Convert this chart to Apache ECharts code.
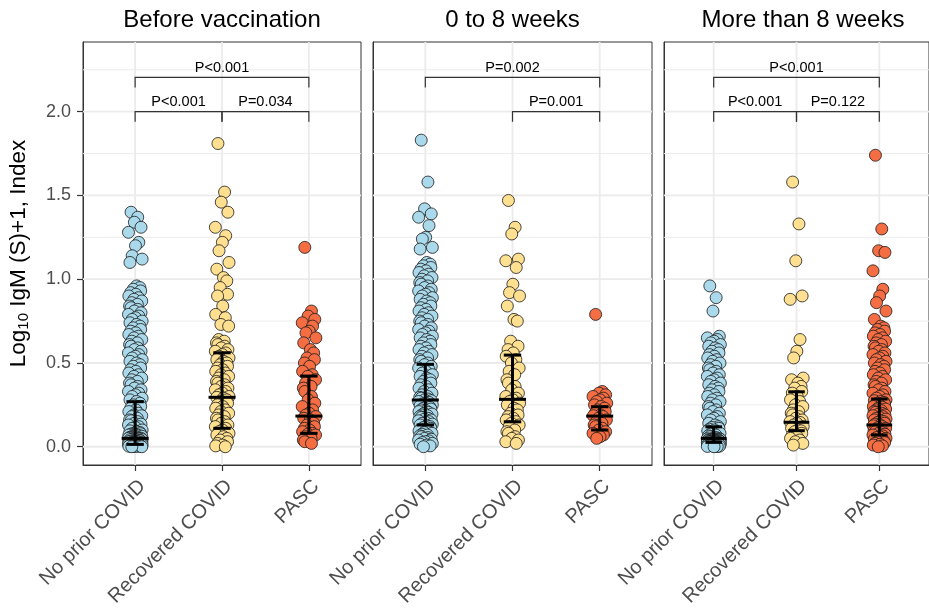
<!DOCTYPE html>
<html>
<head>
<meta charset="utf-8">
<script src="https://cdn.jsdelivr.net/npm/echarts@6/dist/echarts.min.js"></script>
<style>
  html, body { margin: 0; padding: 0; background: #fff; }
  #main { width: 929px; height: 612px; }
</style>
</head>
<body>
<div id="main"></div>
<script>
  // ---- data ----
  var categories = ['No prior COVID', 'Recovered COVID', 'PASC'];
  var panelTitles = ['Before vaccination', '0 to 8 weeks', 'More than 8 weeks'];
  var yTicks = [0, 0.5, 1, 1.5, 2];
  var yMinor = [0.25, 0.75, 1.25, 1.75, 2.25];

  // Before vaccination
  var before_noPrior = [1.40, 1.37, 1.34, 1.31, 1.28, 1.22, 1.20, 1.14, 1.12, 1.10,
    0.96, 0.95, 0.94, 0.93, 0.92, 0.91, 0.90, 0.89, 0.88, 0.87, 0.86, 0.85, 0.84, 0.83, 0.82,
    0.81, 0.80, 0.79, 0.78, 0.77, 0.76, 0.75, 0.74, 0.73, 0.72, 0.71, 0.70, 0.69, 0.68, 0.67,
    0.66, 0.65, 0.64, 0.63, 0.62, 0.61, 0.60, 0.59, 0.58, 0.57, 0.56, 0.55, 0.54, 0.53, 0.52,
    0.51, 0.50, 0.49, 0.48, 0.47, 0.46, 0.45, 0.44, 0.43, 0.42, 0.41, 0.40, 0.39, 0.38, 0.37,
    0.36, 0.35, 0.34, 0.33, 0.32, 0.31, 0.30, 0.29, 0.28, 0.27, 0.26, 0.25,
    0.24, 0.23, 0.22, 0.21, 0.20, 0.19, 0.185, 0.18, 0.17, 0.16, 0.155, 0.15, 0.14, 0.135,
    0.13, 0.12, 0.115, 0.11, 0.10, 0.095, 0.09, 0.085, 0.08, 0.078, 0.075, 0.072, 0.07,
    0.068, 0.065, 0.063, 0.06, 0.058, 0.056, 0.055, 0.053, 0.052, 0.051, 0.05, 0.048, 0.046,
    0.045, 0.043, 0.042, 0.04, 0.038, 0.036, 0.035, 0.033, 0.032, 0.03, 0.028, 0.027, 0.025,
    0.024, 0.022, 0.02, 0.019, 0.018, 0.017, 0.016, 0.015, 0.014, 0.013, 0.012, 0.011, 0.01,
    0.009, 0.008, 0.007, 0.006, 0.005, 0.004, 0.003, 0.002, 0.001, 0.0, 0.0];
  var before_recovered = [1.81, 1.52, 1.46, 1.40, 1.31, 1.26, 1.22, 1.17, 1.10, 1.06, 1.01,
    0.99, 0.95, 0.91, 0.90, 0.84, 0.79, 0.77, 0.73, 0.72, 0.64, 0.63, 0.62, 0.61, 0.60, 0.59,
    0.58, 0.57, 0.56, 0.55, 0.54, 0.53, 0.52, 0.51, 0.50, 0.49, 0.48, 0.47, 0.46, 0.45, 0.44,
    0.43, 0.42, 0.41, 0.40, 0.39, 0.38, 0.37, 0.36, 0.35, 0.34, 0.33, 0.32, 0.31, 0.30, 0.295,
    0.29, 0.28, 0.27, 0.26, 0.25, 0.24, 0.23, 0.22, 0.21, 0.20, 0.19, 0.18, 0.17, 0.16, 0.15,
    0.14, 0.13, 0.12, 0.11, 0.10, 0.09, 0.08, 0.07, 0.06, 0.05, 0.04, 0.03, 0.02, 0.01, 0.005,
    0.0];
  var before_pasc = [1.19, 0.81, 0.78, 0.76, 0.74, 0.72, 0.69, 0.68, 0.65, 0.62, 0.58, 0.56,
    0.53, 0.52, 0.50, 0.48, 0.45, 0.43, 0.42, 0.40, 0.38, 0.36, 0.35, 0.33, 0.30, 0.28, 0.26,
    0.24, 0.22, 0.20, 0.19, 0.18, 0.17, 0.16, 0.14, 0.13, 0.12, 0.11, 0.10, 0.09, 0.08, 0.075,
    0.07, 0.06, 0.05, 0.04, 0.03, 0.02];

  // 0 to 8 weeks
  var early_noPrior = [1.83, 1.58, 1.42, 1.39, 1.37, 1.32, 1.25, 1.24, 1.19, 1.18,
    1.10, 1.09, 1.08, 1.07, 1.06, 1.05, 1.04, 1.03, 1.02, 1.01, 1.00, 0.99, 0.98, 0.97, 0.96,
    0.95, 0.94, 0.93, 0.92, 0.91, 0.90, 0.89, 0.88, 0.87, 0.86, 0.85, 0.84, 0.83, 0.82, 0.81,
    0.80, 0.79, 0.78, 0.77, 0.76, 0.75, 0.74, 0.73, 0.72, 0.71, 0.70, 0.69, 0.68, 0.67, 0.66,
    0.65, 0.64, 0.63, 0.62, 0.61, 0.60, 0.59, 0.58, 0.57, 0.56, 0.55, 0.54, 0.53, 0.52, 0.51,
    0.50, 0.49, 0.48, 0.47, 0.46, 0.45, 0.44, 0.43, 0.42, 0.41, 0.40, 0.39, 0.38, 0.37, 0.36,
    0.35, 0.34, 0.33, 0.32, 0.31, 0.30, 0.295, 0.29, 0.285, 0.28, 0.275, 0.27, 0.265, 0.26,
    0.255, 0.25, 0.245, 0.24, 0.235, 0.23, 0.225, 0.22, 0.215, 0.21, 0.205, 0.20, 0.195, 0.19,
    0.185, 0.18, 0.175, 0.17, 0.165, 0.16, 0.155, 0.15, 0.145, 0.14, 0.135, 0.13, 0.125, 0.12,
    0.115, 0.11, 0.105, 0.10, 0.095, 0.09, 0.085, 0.08, 0.075, 0.07, 0.065, 0.06, 0.055, 0.05,
    0.045, 0.04, 0.035, 0.03, 0.025, 0.02, 0.015, 0.01, 0.005, 0.0];
  var early_recovered = [1.47, 1.31, 1.27, 1.12, 1.11, 1.07, 0.97, 0.92, 0.90, 0.84, 0.76,
    0.75, 0.63, 0.60, 0.58, 0.56, 0.54, 0.52, 0.50, 0.47, 0.45, 0.43, 0.40, 0.38, 0.36, 0.34,
    0.32, 0.30, 0.29, 0.28, 0.27, 0.26, 0.25, 0.23, 0.22, 0.20, 0.19, 0.18, 0.17, 0.16, 0.15,
    0.14, 0.13, 0.12, 0.10, 0.09, 0.08, 0.06, 0.05, 0.04, 0.03, 0.02];
  var early_pasc = [0.79, 0.33, 0.32, 0.31, 0.30, 0.29, 0.28, 0.27, 0.26, 0.25, 0.24, 0.23,
    0.22, 0.21, 0.20, 0.19, 0.185, 0.18, 0.17, 0.16, 0.15, 0.14, 0.13, 0.12, 0.11, 0.10, 0.09,
    0.08, 0.07, 0.06, 0.05];

  // More than 8 weeks
  var late_noPrior = [0.96, 0.89, 0.81, 0.66, 0.65, 0.64, 0.63, 0.62, 0.61, 0.60, 0.59, 0.58,
    0.57, 0.56, 0.55, 0.54, 0.53, 0.52, 0.51, 0.50, 0.49, 0.48, 0.47, 0.46, 0.45, 0.44, 0.43,
    0.42, 0.41, 0.40, 0.39, 0.38, 0.37, 0.36, 0.35, 0.34, 0.33, 0.32, 0.31, 0.30, 0.29, 0.28,
    0.27, 0.26, 0.25, 0.24, 0.23, 0.22, 0.21, 0.20, 0.19, 0.18, 0.17, 0.16, 0.15, 0.14, 0.13,
    0.12, 0.115, 0.11, 0.105, 0.10, 0.095, 0.09, 0.085, 0.08, 0.075, 0.07, 0.065, 0.06, 0.055,
    0.05, 0.049, 0.048, 0.047, 0.046, 0.045, 0.044, 0.043, 0.042, 0.041, 0.04, 0.039, 0.038,
    0.037, 0.036, 0.035, 0.034, 0.033, 0.032, 0.031, 0.03, 0.029, 0.028, 0.027, 0.026, 0.025,
    0.024, 0.023, 0.022, 0.021, 0.02, 0.019, 0.018, 0.017, 0.016, 0.015, 0.014, 0.013, 0.012,
    0.011, 0.01, 0.009, 0.008, 0.007, 0.006, 0.005, 0.004, 0.003, 0.002, 0.001, 0.0];
  var late_recovered = [1.58, 1.33, 1.11, 0.90, 0.88, 0.64, 0.57, 0.53, 0.41, 0.40, 0.38, 0.36,
    0.35, 0.33, 0.32, 0.30, 0.28, 0.27, 0.25, 0.24, 0.22, 0.21, 0.20, 0.19, 0.18, 0.17, 0.16,
    0.15, 0.145, 0.14, 0.13, 0.12, 0.11, 0.10, 0.095, 0.09, 0.08, 0.07, 0.06, 0.05, 0.04, 0.03,
    0.02, 0.01];
  var late_pasc = [1.74, 1.30, 1.17, 1.16, 1.05, 0.94, 0.90, 0.86, 0.81, 0.76, 0.72, 0.71,
    0.70, 0.69, 0.68, 0.67, 0.66, 0.65, 0.64, 0.63, 0.62, 0.61, 0.60, 0.59, 0.58, 0.57, 0.56,
    0.55, 0.54, 0.53, 0.52, 0.51, 0.50, 0.49, 0.48, 0.47, 0.46, 0.45, 0.44, 0.43, 0.42, 0.41,
    0.40, 0.39, 0.38, 0.37, 0.36, 0.35, 0.34, 0.33, 0.32, 0.31, 0.30, 0.29, 0.28, 0.275, 0.27,
    0.265, 0.26, 0.255, 0.25, 0.245, 0.24, 0.235, 0.23, 0.225, 0.22, 0.215, 0.21, 0.205, 0.20,
    0.195, 0.19, 0.185, 0.18, 0.175, 0.17, 0.165, 0.16, 0.155, 0.15, 0.145, 0.14, 0.135, 0.13,
    0.125, 0.12, 0.115, 0.11, 0.105, 0.10, 0.095, 0.09, 0.085, 0.08, 0.075, 0.07, 0.065, 0.06,
    0.055, 0.05, 0.045, 0.04, 0.035, 0.03, 0.025, 0.02, 0.015, 0.01, 0.005, 0.0];

  // median and interquartile range per panel, category order
  var q1 = [[0.014, 0.110, 0.080], [0.130, 0.149, 0.100], [0.026, 0.096, 0.070]];
  var medians = [[0.050, 0.295, 0.183], [0.279, 0.283, 0.183], [0.050, 0.146, 0.130]];
  var q3 = [[0.269, 0.561, 0.422], [0.492, 0.547, 0.239], [0.119, 0.328, 0.285]];

  // pairwise comparisons: [from category, to category], label
  var comparisons = [
    [[0, 2], [0, 1], [1, 2]],
    [[0, 2], [1, 2]],
    [[0, 2], [0, 1], [1, 2]]
  ];
  var pLabels = [
    ['P<0.001', 'P<0.001', 'P=0.034'],
    ['P=0.002', 'P=0.001'],
    ['P<0.001', 'P<0.001', 'P=0.122']
  ];

  var groups = [
    [before_noPrior, before_recovered, before_pasc],
    [early_noPrior, early_recovered, early_pasc],
    [late_noPrior, late_recovered, late_pasc]
  ];

  // ---- styling ----
  var FONT = "'Liberation Sans', Arial, sans-serif";
  var colors = ['#A9D9EA', '#FEE090', '#F46D43'];
  var gridBoxes = [{ left: 83, width: 278 }, { left: 373, width: 279 }, { left: 664, width: 278 }];
  var GRID_TOP = 42, GRID_H = 423;
  var X_MIN = -0.6, X_MAX = 2.6, Y_MIN = -0.109, Y_MAX = 2.416;
  var jitter = [-0.55, 0.35, -0.1, 0.8, -0.9, 0.5, 0.05, -0.4, 0.95, -0.7, 0.2, 0.65,
    -0.25, 0.75, -0.6, 0.1, -0.85, 0.45, -0.15, 0.9, -0.45, 0.3, -0.75];
  var JIT_W = 0.085;
  // bracket level (data units) for each comparison
  function bracketLevel(p, k) {
    var c = comparisons[p][k];
    return (c[0] === 0 && c[1] === 2) ? 2.205 : 2.0;
  }

  var chart = echarts.init(document.getElementById('main'), null, { renderer: 'canvas' });

  var grids = [], xAxes = [], yAxes = [], titles = [], series = [];

  for (var p = 0; p < 3; p++) {
    grids.push({
      left: gridBoxes[p].left, width: gridBoxes[p].width, top: GRID_TOP, height: GRID_H,
      show: true, borderColor: '#333', borderWidth: 1, backgroundColor: '#fff'
    });
    titles.push({
      text: panelTitles[p],
      left: gridBoxes[p].left + gridBoxes[p].width / 2,
      textAlign: 'center',
      top: 8,
      padding: 0,
      textStyle: { fontFamily: FONT, fontSize: 24, fontWeight: 'normal', color: '#000' }
    });
    xAxes.push({
      type: 'value', gridIndex: p, min: X_MIN, max: X_MAX,
      axisLine: { show: true, onZero: false, lineStyle: { color: '#333', width: 1 } },
      axisTick: { show: true, customValues: [0, 1, 2], length: 6, lineStyle: { color: '#333', width: 1.2 } },
      axisLabel: {
        customValues: [0, 1, 2], rotate: 45, margin: 11, verticalAlign: 'top',
        formatter: function (v) { return categories[Math.round(v)]; },
        fontFamily: FONT, fontSize: 20, color: '#4D4D4D'
      },
      splitLine: { show: false }
    });
    yAxes.push({
      type: 'value', gridIndex: p, min: Y_MIN, max: Y_MAX,
      axisLine: { show: true, onZero: false, lineStyle: { color: '#333', width: 1 } },
      axisTick: { show: p === 0, customValues: yTicks, length: 6, lineStyle: { color: '#333', width: 1.2 } },
      axisLabel: {
        show: p === 0, customValues: yTicks, margin: 12,
        formatter: function (v) { return v.toFixed(1); },
        fontFamily: FONT, fontSize: 18, color: '#4D4D4D'
      },
      splitLine: { show: false },
      name: p === 0 ? '{t|Log}{s|10}{t| IgM (S)+1, Index}' : '',
      nameLocation: 'middle',
      nameGap: 52,
      nameTextStyle: {
        rich: {
          t: { fontFamily: FONT, fontSize: 22.5, color: '#000' },
          s: { fontFamily: FONT, fontSize: 15, color: '#000', verticalAlign: 'bottom', padding: [10, 0, 0, 0] }
        }
      }
    });

    // panel grid lines
    series.push({
      type: 'custom', xAxisIndex: p, yAxisIndex: p, z: 1, silent: true,
      data: [[0, 0]],
      renderItem: function (params, api) {
        var kids = [];
        yMinor.forEach(function (v) {
          var a = api.coord([X_MIN, v]), b = api.coord([X_MAX, v]);
          kids.push({ type: 'line', shape: { x1: a[0], y1: a[1], x2: b[0], y2: b[1] }, style: { stroke: '#EBEBEB', lineWidth: 1 } });
        });
        yTicks.forEach(function (v) {
          var a = api.coord([X_MIN, v]), b = api.coord([X_MAX, v]);
          kids.push({ type: 'line', shape: { x1: a[0], y1: a[1], x2: b[0], y2: b[1] }, style: { stroke: '#EBEBEB', lineWidth: 1.8 } });
        });
        [0, 1, 2].forEach(function (c) {
          var a = api.coord([c, Y_MIN]), b = api.coord([c, Y_MAX]);
          kids.push({ type: 'line', shape: { x1: a[0], y1: a[1], x2: b[0], y2: b[1] }, style: { stroke: '#EBEBEB', lineWidth: 1.8 } });
        });
        return { type: 'group', children: kids };
      }
    });

    // jittered points
    for (var c = 0; c < 3; c++) {
      var vals = groups[p][c];
      series.push({
        type: 'scatter', xAxisIndex: p, yAxisIndex: p, z: 3,
        symbol: 'circle', symbolSize: 12,
        itemStyle: { color: colors[c], borderColor: '#1a1a1a', borderWidth: 0.8, opacity: 1 },
        data: vals.map(function (v, i) { return [c + jitter[i % jitter.length] * JIT_W, v]; })
      });
    }

    (function (p) {
      // median + IQR bars
      series.push({
        type: 'custom', xAxisIndex: p, yAxisIndex: p, z: 5, silent: true,
        data: [0, 1, 2].map(function (c) { return [c, q1[p][c], medians[p][c], q3[p][c]]; }),
        renderItem: function (params, api) {
          var x = api.value(0);
          var lo = api.coord([x, api.value(1)]), md = api.coord([x, api.value(2)]), hi = api.coord([x, api.value(3)]);
          var capL = api.coord([x - 0.1, 0])[0], capR = api.coord([x + 0.1, 0])[0];
          var mL = api.coord([x - 0.155, 0])[0], mR = api.coord([x + 0.155, 0])[0];
          var st = { stroke: '#000', lineWidth: 3 };
          return {
            type: 'group', children: [
              { type: 'line', shape: { x1: lo[0], y1: lo[1], x2: hi[0], y2: hi[1] }, style: st },
              { type: 'line', shape: { x1: capL, y1: lo[1], x2: capR, y2: lo[1] }, style: st },
              { type: 'line', shape: { x1: capL, y1: hi[1], x2: capR, y2: hi[1] }, style: st },
              { type: 'line', shape: { x1: mL, y1: md[1], x2: mR, y2: md[1] }, style: st }
            ]
          };
        }
      });

      // significance brackets
      series.push({
        type: 'custom', xAxisIndex: p, yAxisIndex: p, z: 6, silent: true,
        data: comparisons[p].map(function (cmp, k) { return [cmp[0], cmp[1], bracketLevel(p, k)]; }),
        renderItem: function (params, api) {
          var a = api.coord([api.value(0), api.value(2)]);
          var b = api.coord([api.value(1), api.value(2)]);
          var drop = api.coord([0, api.value(2) - 0.06])[1];
          return {
            type: 'group', children: [
              { type: 'polyline', shape: { points: [[a[0], drop], a, b, [b[0], drop]] }, style: { stroke: '#333', lineWidth: 1.2, fill: null } },
              {
                type: 'text', x: (a[0] + b[0]) / 2, y: a[1] - 2,
                style: { text: pLabels[p][params.dataIndex], textAlign: 'center', textVerticalAlign: 'bottom', font: '14.5px ' + FONT, fill: '#000' }
              }
            ]
          };
        }
      });
    })(p);
  }

  var option = {
    animation: false,
    backgroundColor: '#fff',
    title: titles,
    grid: grids,
    xAxis: xAxes,
    yAxis: yAxes,
    series: series
  };

  chart.setOption(option);
  window.addEventListener('resize', chart.resize);
</script>
</body>
</html>
